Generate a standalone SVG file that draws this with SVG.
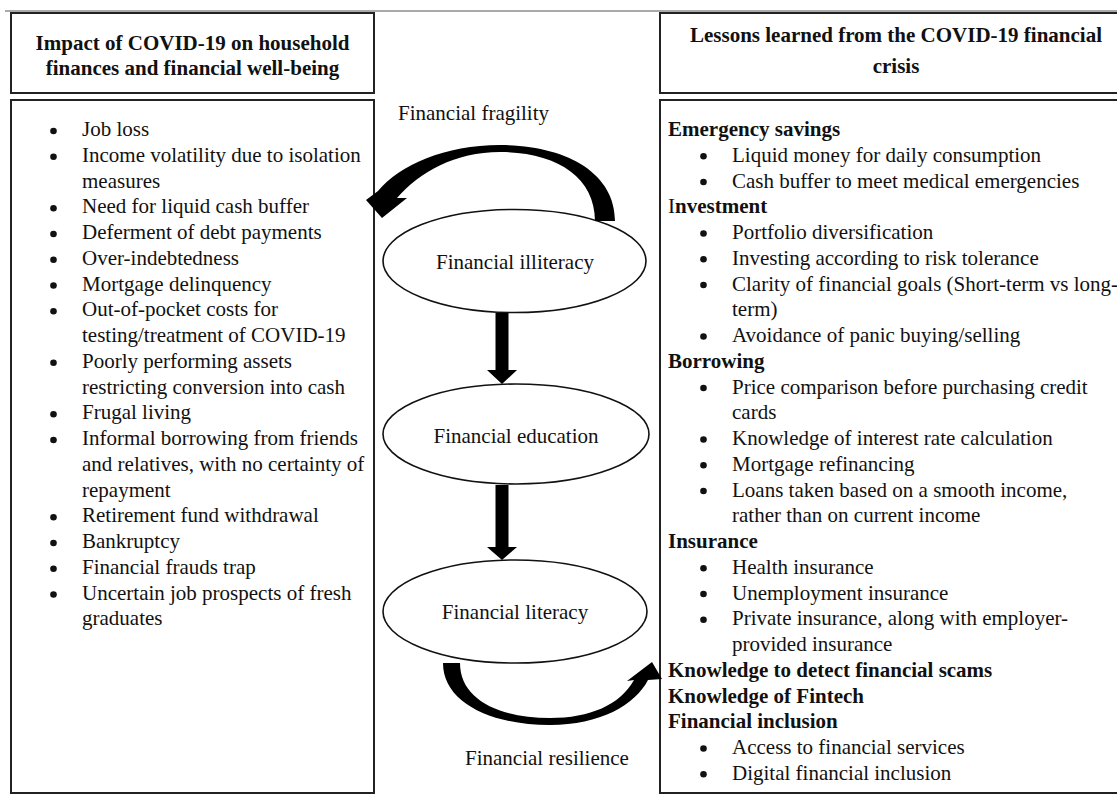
<svg xmlns="http://www.w3.org/2000/svg" width="1117" height="795" viewBox="0 0 1117 795">
<style>
text{font-family:"Liberation Serif","Times New Roman",serif;font-size:21px;fill:#111}
.b{font-weight:bold}
.n{font-weight:normal}
.c{text-anchor:middle}
.box{fill:#fff;stroke:#222;stroke-width:2}
.ell{fill:#fff;stroke:#111;stroke-width:1.6}
.arr{fill:#000}
.dot{fill:#111}
</style>
<rect width="1117" height="795" fill="#fff"/>
<line x1="5" y1="11" x2="1117" y2="11" stroke="#555" stroke-width="1"/>

<g id="impact-header">
<rect class="box" x="11" y="13" width="363" height="80"/>
<text class="b c" x="192.5" y="50">Impact of COVID-19 on household</text>
<text class="b c" x="192.5" y="75">finances and financial well-being</text>
</g>

<g id="impact-list">
<rect class="box" x="11" y="100" width="363" height="693"/>
<g class="dot">
<circle cx="53.5" cy="131" r="3.3"/>
<circle cx="53.5" cy="156.75" r="3.3"/>
<circle cx="53.5" cy="208.25" r="3.3"/>
<circle cx="53.5" cy="234" r="3.3"/>
<circle cx="53.5" cy="259.75" r="3.3"/>
<circle cx="53.5" cy="285.5" r="3.3"/>
<circle cx="53.5" cy="311.25" r="3.3"/>
<circle cx="53.5" cy="362.75" r="3.3"/>
<circle cx="53.5" cy="414.25" r="3.3"/>
<circle cx="53.5" cy="440" r="3.3"/>
<circle cx="53.5" cy="517.25" r="3.3"/>
<circle cx="53.5" cy="543" r="3.3"/>
<circle cx="53.5" cy="568.75" r="3.3"/>
<circle cx="53.5" cy="594.5" r="3.3"/>
</g>
<text x="82" y="136">Job loss</text>
<text x="82" y="161.75">Income volatility due to isolation</text>
<text x="82" y="187.5">measures</text>
<text x="82" y="213.25">Need for liquid cash buffer</text>
<text x="82" y="239">Deferment of debt payments</text>
<text x="82" y="264.75">Over-indebtedness</text>
<text x="82" y="290.5">Mortgage delinquency</text>
<text x="82" y="316.25">Out-of-pocket costs for</text>
<text x="82" y="342">testing/treatment of COVID-19</text>
<text x="82" y="367.75">Poorly performing assets</text>
<text x="82" y="393.5">restricting conversion into cash</text>
<text x="82" y="419.25">Frugal living</text>
<text x="82" y="445">Informal borrowing from friends</text>
<text x="82" y="470.75">and relatives, with no certainty of</text>
<text x="82" y="496.5">repayment</text>
<text x="82" y="522.25">Retirement fund withdrawal</text>
<text x="82" y="548">Bankruptcy</text>
<text x="82" y="573.75">Financial frauds trap</text>
<text x="82" y="599.5">Uncertain job prospects of fresh</text>
<text x="82" y="625.25">graduates</text>
</g>

<g id="lessons-header">
<rect class="box" x="660" y="13" width="462" height="80"/>
<text class="b c" x="896" y="42">Lessons learned from the COVID-19 financial</text>
<text class="b c" x="896" y="73">crisis</text>
</g>

<g id="lessons-list">
<rect class="box" x="660" y="100" width="462" height="693"/>
<g class="dot">
<circle cx="703.5" cy="156.25" r="3.3"/>
<circle cx="703.5" cy="182" r="3.3"/>
<circle cx="703.5" cy="233.5" r="3.3"/>
<circle cx="703.5" cy="259.25" r="3.3"/>
<circle cx="703.5" cy="285" r="3.3"/>
<circle cx="703.5" cy="336.5" r="3.3"/>
<circle cx="703.5" cy="388" r="3.3"/>
<circle cx="703.5" cy="439.5" r="3.3"/>
<circle cx="703.5" cy="465.25" r="3.3"/>
<circle cx="703.5" cy="491" r="3.3"/>
<circle cx="703.5" cy="568.25" r="3.3"/>
<circle cx="703.5" cy="594" r="3.3"/>
<circle cx="703.5" cy="619.75" r="3.3"/>
<circle cx="703.5" cy="748.5" r="3.3"/>
<circle cx="703.5" cy="774.25" r="3.3"/>
</g>
<text class="b" x="668" y="136">Emergency savings</text>
<text x="732" y="161.75">Liquid money for daily consumption</text>
<text x="732" y="187.5">Cash buffer to meet medical emergencies</text>
<text class="b" x="668" y="213.25"><tspan class="n">I</tspan>nvestment</text>
<text x="732" y="239">Portfolio diversification</text>
<text x="732" y="264.75">Investing according to risk tolerance</text>
<text x="732" y="290.5">Clarity of financial goals (Short-term vs long-</text>
<text x="732" y="316.25">term)</text>
<text x="732" y="342">Avoidance of panic buying/selling</text>
<text class="b" x="668" y="367.75">Borrowing</text>
<text x="732" y="393.5">Price comparison before purchasing credit</text>
<text x="732" y="419.25">cards</text>
<text x="732" y="445">Knowledge of interest rate calculation</text>
<text x="732" y="470.75">Mortgage refinancing</text>
<text x="732" y="496.5">Loans taken based on a smooth income,</text>
<text x="732" y="522.25">rather than on current income</text>
<text class="b" x="668" y="548">Insurance</text>
<text x="732" y="573.75">Health insurance</text>
<text x="732" y="599.5">Unemployment insurance</text>
<text x="732" y="625.25">Private insurance, along with employer-</text>
<text x="732" y="651">provided insurance</text>
<text class="b" x="668" y="676.75">Knowledge to detect financial scams</text>
<text class="b" x="668" y="702.5">Knowledge of Fintech</text>
<text class="b" x="668" y="728.25">Financial inclusion</text>
<text x="732" y="754">Access to financial services</text>
<text x="732" y="779.75">Digital financial inclusion</text>
</g>

<g id="illiteracy">
<ellipse class="ell" cx="514.5" cy="261" rx="131.5" ry="51.5"/>
<text class="c" x="515" y="269">Financial illiteracy</text>
</g>
<g id="education">
<ellipse class="ell" cx="516" cy="434" rx="133" ry="50"/>
<text class="c" x="516" y="443">Financial education</text>
</g>
<g id="literacy">
<ellipse class="ell" cx="515" cy="611.5" rx="132" ry="51.5"/>
<text class="c" x="515" y="619">Financial literacy</text>
</g>

<g id="connectors">
<path class="arr" d="M615 221 C615 172 565 145 500 145 C445 145 400 165 378 191 L366 200 L382 218 L407 198 L397 198 C420 172 455 152 500 152 C555 152 595 176 595 221 Z"/>
<text x="398" y="120">Financial fragility</text>
<path class="arr" d="M495.5 313 H508.5 V370 H517 L502 384 L487 370 H495.5 Z"/>
<path class="arr" d="M495.5 485 H508.5 V547 H517 L502 560 L487 547 H495.5 Z"/>
<path class="arr" d="M443 663 C443 702 490 725 550 725 C600 725 635 705 648 680 L662 679 L652 662 L627 681 L634 680 C620 705 590 718 550 718 C500 718 460 700 460 663 Z"/>
<text x="465" y="765">Financial resilience</text>
</g>
</svg>
